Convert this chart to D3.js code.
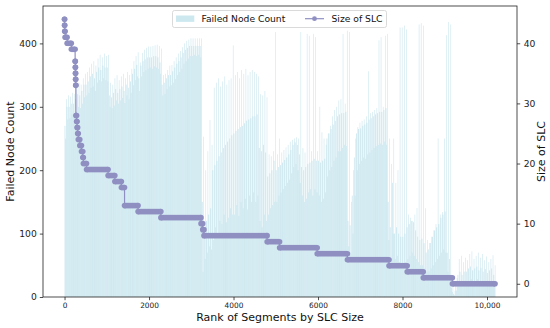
<!DOCTYPE html>
<html><head><meta charset="utf-8">
<script src="https://cdn.jsdelivr.net/npm/d3@7"></script>
<style>body{margin:0;background:#fff}svg{display:block;font-family:"DejaVu Sans",sans-serif}</style>
</head><body><svg id="c" width="550" height="328"></svg>
<script>
// ---- data ----
const rankTicks = [0, 2000, 4000, 6000, 8000, 10000];
const rankTickLabels = ["0", "2000", "4000", "6000", "8000", "10,000"];
const countTicks = [0, 100, 200, 300, 400];
const slcTicks = [0, 10, 20, 30, 40];
const binWidth = 50; // segments per bar group (rank)

// Failed node count per group of 50 ranks: highest, typical and lowest bar
const failedPeak = [
  312,318,316,322,320,330,338,335,345,352,
  355,362,368,372,365,376,382,378,384,380,
  382,338,335,345,350,342,348,352,345,355,
  350,360,372,380,386,370,385,390,393,395,
  395,396,397,398,396,392,350,352,358,365,
  366,372,378,384,388,394,400,404,406,408,
  408,408,408,408,408,253,200,230,279,240,
  330,338,345,332,340,348,335,342,345,397,
  350,355,345,358,352,360,350,355,358,355,
  352,348,320,318,325,315,225,222,230,418,
  225,250,228,232,236,240,245,248,250,252,
  250,418,235,228,415,412,230,415,410,230,
  300,260,250,240,258,270,285,295,300,310,
  312,415,305,420,418,150,200,250,268,275,
  278,280,285,356,290,292,295,298,405,410,
  300,412,415,250,210,250,180,200,425,425,
  428,422,130,125,120,130,140,430,432,428,
  140,90,85,95,105,115,250,130,134,250,
  413,434,430,20,10,30,60,65,55,62,
  58,68,72,60,65,70,62,68,58,64,55,60,66,50
];
const failedBase = [
  270,300,300,305,305,312,320,318,325,335,
  335,340,348,352,345,355,362,358,365,362,
  362,318,315,322,328,322,328,332,325,335,
  330,340,352,360,366,345,365,372,375,378,
  378,378,380,380,378,370,335,338,345,350,
  350,356,362,368,372,378,385,390,393,396,
  396,396,396,396,396,150,110,120,130,140,
  200,208,215,222,228,235,240,245,250,255,
  258,262,265,268,270,274,278,280,282,285,
  285,288,235,230,240,228,190,195,200,215,
  200,205,208,212,216,220,225,232,240,244,
  240,225,205,200,205,210,212,215,218,215,
  215,212,215,218,250,258,265,272,278,285,
  288,290,290,292,120,113,160,220,258,265,
  266,270,272,275,280,282,285,288,290,292,
  292,295,298,150,110,180,100,110,100,95,
  95,100,110,115,120,118,105,95,90,92,
  85,70,75,85,95,105,110,115,125,130,
  135,70,60,15,5,20,35,40,35,40,
  40,45,48,42,45,48,42,46,40,44,38,42,45,35
];
const failedLow = [
  250,280,282,288,285,292,300,298,305,315,
  318,322,330,332,325,338,342,340,345,342,
  340,300,298,302,310,305,310,314,306,318,
  312,322,334,342,348,325,348,355,358,360,
  362,360,364,362,360,352,318,320,328,332,
  334,338,344,350,355,360,368,372,376,380,
  380,382,380,382,378,40,60,70,80,75,
  90,110,100,120,115,130,118,125,140,130,
  130,145,128,150,140,155,138,160,150,165,
  150,160,120,110,130,120,130,140,145,150,
  150,160,165,170,175,180,185,195,205,210,
  200,180,160,150,155,165,170,160,170,165,
  160,150,155,165,190,200,205,215,220,230,
  230,235,240,238,80,70,100,160,200,210,
  215,220,218,225,228,232,235,238,240,242,
  240,245,240,90,60,100,60,65,55,50,
  50,55,60,65,70,65,60,55,50,50,
  45,40,40,45,50,55,60,65,70,75,
  70,40,30,8,3,10,18,22,20,22,
  22,25,28,22,25,28,20,25,22,24,20,22,25,18
];

// Size of SLC: value and the rank span it covers
const slcSize  = [44,43,42,41,40,39,37,36,35,34,33,28,27,26,25,24,23,22,21,20,19,18,17,16,13,12,11,10,9,8,7,6,5,4,3,2,1,0];
const slcStart = [0,1,4,13,61,161,251,256,259,262,265,269,286,296,311,326,361,401,433,446,521,1031,1191,1346,1421,1741,2281,3231,3271,3301,4796,5091,5981,6696,7681,8111,8491,9181];
const slcEnd   = [0,3,12,60,160,250,255,258,261,264,268,285,295,310,325,360,400,432,445,520,1030,1190,1345,1420,1740,2280,3230,3270,3300,4795,5090,5980,6695,7680,8110,8490,9180,10190];

// ---- layout ----
const W = 550, H = 328;
const L = 43, R = 517, T = 6, B = 297;
const barColor = "#add8e6", barAlpha = 0.6;
const lineColor = "#8f8fc2";
const markerR = 2.8;

const svg = d3.select("#c");
const x = d3.scaleLinear().domain([-510, 10710]).range([L, R]);
const yL = d3.scaleLinear().domain([0, 459]).range([B, T]);
const yR = d3.scaleLinear().domain([-2.2, 46.2]).range([B, T]);

svg.append("rect").attr("width", W).attr("height", H).attr("fill", "#fff");

svg.append("defs").append("clipPath").attr("id", "pa")
  .append("rect").attr("x", L).attr("y", T).attr("width", R - L).attr("height", B - T);

const plot = svg.append("g").attr("clip-path", "url(#pa)");

// bars: each group of ranks drawn as three adjacent thin bars
const bins = failedPeak.map((p, i) => ({ r: i * binWidth, peak: p, base: failedBase[i], low: failedLow[i] }));
const parts = [
  { key: "base", from: 0, to: 0.4 },
  { key: "low", from: 0.4, to: 0.7 },
  { key: "peak", from: 0.7, to: 1.0 }
];
const barG = plot.append("g").attr("fill", barColor).attr("fill-opacity", barAlpha);
parts.forEach(p => {
  barG.append("g").selectAll("rect").data(bins).join("rect")
    .attr("x", d => x(d.r + binWidth * p.from))
    .attr("width", d => x(d.r + binWidth * p.to) - x(d.r + binWidth * p.from))
    .attr("y", d => yL(d[p.key]))
    .attr("height", d => yL(0) - yL(d[p.key]));
});

// SLC line
const groups = slcSize.map((s, i) => ({ s, a: slcStart[i], b: slcEnd[i] }));
const pts = groups.flatMap(g => [[g.a, g.s], [g.b, g.s]]);
const lineGen = d3.line().x(d => x(d[0])).y(d => yR(d[1]));
plot.append("path").attr("d", lineGen(pts)).attr("fill", "none")
  .attr("stroke", lineColor).attr("stroke-width", 1.2);

// merged markers
const mk = plot.append("g").attr("fill", lineColor);
mk.selectAll("rect").data(groups.filter(g => g.b > g.a)).join("rect")
  .attr("x", g => x(g.a)).attr("width", g => x(g.b) - x(g.a))
  .attr("y", g => yR(g.s) - markerR).attr("height", markerR * 2);
mk.selectAll("circle.s").data(groups).join("circle")
  .attr("cx", g => x(g.a)).attr("cy", g => yR(g.s)).attr("r", markerR);
mk.selectAll("circle.e").data(groups).join("circle")
  .attr("cx", g => x(g.b)).attr("cy", g => yR(g.s)).attr("r", markerR);

// axes
function styleAxis(g, fs) {
  g.select(".domain").remove();
  g.selectAll(".tick line").attr("stroke", "#222").attr("stroke-width", 0.8);
  g.selectAll(".tick text").attr("fill", "#222").style("font-size", fs + "px")
    .style("font-family", "DejaVu Sans, sans-serif");
}
const ax = svg.append("g").attr("transform", `translate(0,${B})`)
  .call(d3.axisBottom(x).tickValues(rankTicks).tickFormat((d, i) => rankTickLabels[i]).tickSize(3.2).tickPadding(3));
styleAxis(ax, 7.4);
const ayl = svg.append("g").attr("transform", `translate(${L},0)`)
  .call(d3.axisLeft(yL).tickValues(countTicks).tickSize(3.2).tickPadding(3));
styleAxis(ayl, 9.2);
const ayr = svg.append("g").attr("transform", `translate(${R},0)`)
  .call(d3.axisRight(yR).tickValues(slcTicks).tickSize(3.2).tickPadding(3.5));
styleAxis(ayr, 9.2);

// spines
svg.append("rect").attr("x", L).attr("y", T).attr("width", R - L).attr("height", B - T)
  .attr("fill", "none").attr("stroke", "#222").attr("stroke-width", 0.8);

// axis labels
svg.append("text").attr("x", (L + R) / 2).attr("y", 321).attr("text-anchor", "middle")
  .style("font-size", "11px").attr("fill", "#111").text("Rank of Segments by SLC Size");
svg.append("text").attr("transform", `translate(14,${(T + B) / 2}) rotate(-90)`).attr("text-anchor", "middle")
  .style("font-size", "11px").attr("fill", "#111").text("Failed Node Count");
svg.append("text").attr("transform", `translate(545,${(T + B) / 2}) rotate(-90)`).attr("text-anchor", "middle")
  .style("font-size", "11px").attr("fill", "#111").text("Size of SLC");

// legend
const lg = svg.append("g");
lg.append("rect").attr("x", 172.5).attr("y", 10.5).attr("width", 214).attr("height", 17)
  .attr("rx", 2).attr("fill", "#fff").attr("fill-opacity", 0.8).attr("stroke", "#d0d0d0").attr("stroke-width", 0.8);
lg.append("rect").attr("x", 176).attr("y", 15.5).attr("width", 18.3).attr("height", 6.4)
  .attr("fill", barColor).attr("fill-opacity", barAlpha);
lg.append("text").attr("x", 201.5).attr("y", 22.3).style("font-size", "9.2px").attr("fill", "#111").text("Failed Node Count");
lg.append("line").attr("x1", 305).attr("x2", 324).attr("y1", 18.7).attr("y2", 18.7)
  .attr("stroke", lineColor).attr("stroke-width", 1.2);
lg.append("circle").attr("cx", 314.5).attr("cy", 18.7).attr("r", markerR * 0.85).attr("fill", lineColor);
lg.append("text").attr("x", 331.5).attr("y", 22.3).style("font-size", "9.2px").attr("fill", "#111").text("Size of SLC");
</script></body></html>
